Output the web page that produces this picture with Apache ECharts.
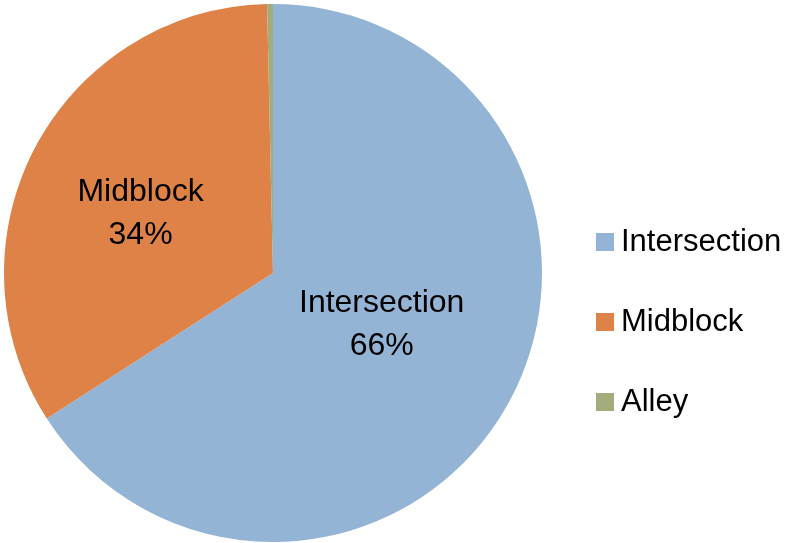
<!DOCTYPE html>
<html>
<head>
<meta charset="utf-8">
<script src="https://cdn.jsdelivr.net/npm/echarts@6/dist/echarts.min.js"></script>
<style>
html, body { margin: 0; padding: 0; background: #fff; }
#chart { width: 786px; height: 543px; }
</style>
</head>
<body>
<div id="chart"></div>
<script>
// share of crashes by location
const categories = ['Intersection', 'Midblock', 'Alley'];
const values = [65.9, 33.75, 0.35];
const colors = ['#94B4D5', '#DE8248', '#A3AC7D'];
const labelShift = [[-12, -14], [-11, 5], [0, 0]];

const chart = echarts.init(document.getElementById('chart'));
const data = categories.map((name, i) => ({
	name: name,
	value: values[i],
	label: { show: name !== 'Alley', offset: labelShift[i] },
}));

chart.setOption({
	animation: false,
	color: colors,
	textStyle: { fontFamily: 'Liberation Sans' },
	legend: {
		orient: 'vertical',
		left: 591,
		top: 221,
		icon: 'rect',
		itemWidth: 18,
		itemHeight: 18,
		itemGap: 48,
		textStyle: { fontSize: 31, color: '#000', lineHeight: 32, padding: [0, 0, 0, 2] },
		data: categories,
	},
	series: [
		{
			type: 'pie',
			center: [273, 273],
			radius: [0, 269],
			startAngle: 90,
			clockwise: true,
			percentPrecision: 0,
			avoidLabelOverlap: false,
			itemStyle: { borderWidth: 0 },
			label: {
				position: 'inside',
				formatter: '{b}\n{d}%',
				fontSize: 32,
				lineHeight: 43,
				color: '#000',
			},
			labelLine: { show: false },
			emphasis: { disabled: true },
			data: data,
		},
	],
});
</script>
</body>
</html>
